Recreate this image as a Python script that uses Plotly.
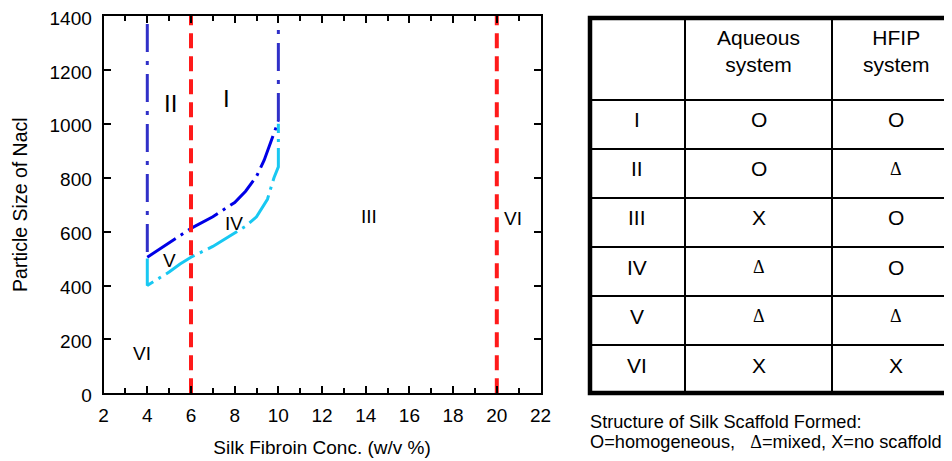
import plotly.graph_objects as go

# ---- data ----
upper_conc = [4, 5, 5.5, 6, 7, 7.5, 8, 8.5, 9, 9.35, 9.77, 10]
upper_size = [505, 560, 587, 612, 655, 680, 708, 750, 805, 865, 962, 1010]

lower_conc = [4, 4, 5, 5.5, 6, 7, 8, 8.5, 9, 9.5, 9.8, 10, 10]
lower_size = [500, 400, 450, 480, 505, 545, 595, 620, 655, 720, 800, 840, 1000]

left_bound_conc = [4, 4]
left_bound_size = [1370, 500]
right_bound_conc = [10, 10]
right_bound_size = [1010, 1370]

red_lines_conc = [6, 20]
red_line_size = [0, 1400]

region_labels = ["II", "I", "IV", "V", "VI", "III", "VI"]
region_conc = [5.04, 7.64, 7.97, 5.0, 3.74, 14.13, 20.74]
region_size = [1075, 1094, 631, 494, 149, 655, 650]
region_big = [True, True, False, False, False, False, False]

x_ticks = list(range(2, 23, 2))
y_ticks = list(range(0, 1401, 200))

table_header = ["", "Aqueous<br>system", "HFIP<br>system"]
table_regions = ["I", "II", "III", "IV", "V", "VI"]
table_aqueous = ["O", "O", "X", "Δ", "Δ", "X"]
table_hfip = ["O", "Δ", "O", "O", "Δ", "X"]

caption_lines = ["Structure of Silk Scaffold Formed:",
                 "O=homogeneous,   " + '<span style="font-family:Liberation Serif">Δ</span>'
                 + "=mixed, X=no scaffold"]

FONT = "Liberation Sans, Arial, Helvetica, sans-serif"
SERIF = "Liberation Serif, Times New Roman, serif"
W, H = 952, 461
OFF = 8  # page body margin


def fx(px):
    return (px - OFF) / W


def fy(py):
    return 1 - (py - OFF) / H


fig = go.Figure()

dashdot = "34px,6px,3px,6px"
bound_dash = "28px,9px,4px,9px"
fig.add_trace(go.Scatter(x=left_bound_conc, y=left_bound_size, mode="lines",
                         line=dict(color="#3030c8", width=3, dash=bound_dash),
                         showlegend=False, hoverinfo="skip"))
fig.add_trace(go.Scatter(x=right_bound_conc, y=right_bound_size, mode="lines",
                         line=dict(color="#3030c8", width=3, dash=bound_dash),
                         showlegend=False, hoverinfo="skip"))
fig.add_trace(go.Scatter(x=upper_conc, y=upper_size, mode="lines",
                         line=dict(color="#0000e6", width=3, dash=dashdot),
                         showlegend=False, hoverinfo="skip"))
fig.add_trace(go.Scatter(x=lower_conc, y=lower_size, mode="lines",
                         line=dict(color="#18c8f2", width=3, dash=dashdot),
                         showlegend=False, hoverinfo="skip"))
for xc in red_lines_conc:
    fig.add_trace(go.Scatter(x=[xc, xc], y=red_line_size, mode="lines",
                             line=dict(color="#ff1a1a", width=4, dash="15px,8px"),
                             showlegend=False, hoverinfo="skip"))

for lab, xc, yc, big in zip(region_labels, region_conc, region_size, region_big):
    fig.add_annotation(x=xc, y=yc, text=lab, showarrow=False,
                       font=dict(size=24 if big else 19, color="black", family=FONT))

# ---- table drawn on its own hidden axes (1 unit = 1 px) ----
col_widths = [97, 147, 128]
header_h = 83
row_h = 49
col_edges = [0]
for w in col_widths:
    col_edges.append(col_edges[-1] + w)
n_rows = len(table_regions)
row_edges = [0, header_h] + [header_h + row_h * (i + 1) for i in range(n_rows)]
table_w = col_edges[-1]
table_h = row_edges[-1]

# invisible anchor trace so the table axes exist
fig.add_trace(go.Scatter(x=[0, table_w], y=[0, table_h], mode="markers",
                         marker=dict(opacity=0), xaxis="x2", yaxis="y2",
                         showlegend=False, hoverinfo="skip"))

for xe in col_edges[1:-1]:
    fig.add_shape(type="line", xref="x2", yref="y2", x0=xe, x1=xe, y0=0, y1=table_h,
                  line=dict(color="black", width=2))
for ye in row_edges[1:-1]:
    fig.add_shape(type="line", xref="x2", yref="y2", x0=0, x1=table_w + 20, y0=ye, y1=ye,
                  line=dict(color="black", width=2))
fig.add_shape(type="rect", xref="x2", yref="y2", x0=2, x1=table_w + 20, y0=1, y1=table_h - 1,
              line=dict(color="black", width=4.5))

col_centers = [(col_edges[i] + col_edges[i + 1]) / 2 for i in range(len(col_widths))]
for j, txt in enumerate(table_header):
    if txt:
        fig.add_annotation(xref="x2", yref="y2", x=col_centers[j], y=header_h / 2 - 7,
                           text=txt, showarrow=False, yanchor="middle",
                           font=dict(size=21, color="black", family=FONT))
for j, col in enumerate([table_regions, table_aqueous, table_hfip]):
    for i, txt in enumerate(col):
        tri = txt == "Δ"
        fig.add_annotation(xref="x2", yref="y2", x=col_centers[j],
                           y=row_edges[i + 1] + 20, text=txt, showarrow=False,
                           yanchor="middle",
                           font=dict(size=18 if tri else 21, color="black",
                                     family=SERIF if tri else FONT))

for i, line in enumerate(caption_lines):
    fig.add_annotation(xref="paper", yref="paper", x=fx(588), y=fy(421.7 + 20 * i),
                       text=line, showarrow=False, xanchor="left", yanchor="middle",
                       font=dict(size=18.2, color="black", family=FONT))

axis_common = dict(showgrid=False, zeroline=False, showline=True, linecolor="black",
                   linewidth=2, ticks="inside", tickcolor="black", tickwidth=1.5,
                   ticklen=7, mirror="ticks", automargin=False,
                   ticklabeloverflow="allow",
                   tickfont=dict(size=19, color="black", family=FONT))

fig.update_layout(
    width=W, height=H, margin=dict(l=0, r=0, t=0, b=0),
    paper_bgcolor="white", plot_bgcolor="white",
    font=dict(family=FONT, color="black"),
    xaxis=dict(domain=[fx(103.6), fx(540.5)], range=[2, 22], tickvals=x_ticks,
               minor=dict(dtick=1, ticks="inside", ticklen=5, tickcolor="black", tickwidth=1.5),
               ticklabelstandoff=4,
               title=dict(text="Silk Fibroin Conc. (w/v %)", font=dict(size=19, family=FONT),
                          standoff=16),
               **axis_common),
    yaxis=dict(domain=[fy(393.3), fy(16)], range=[0, 1400], tickvals=y_ticks,
               ticklabelstandoff=6, ticklabelshift=2,
               title=dict(text="Particle Size of Nacl", font=dict(size=19.5, family=FONT),
                          standoff=17),
               **axis_common),
    xaxis2=dict(domain=[fx(580), 1], range=[-8, 372], visible=False, fixedrange=True),
    yaxis2=dict(domain=[fy(400), fy(12)], range=[383, -5], visible=False, fixedrange=True),
)

fig.write_html("out.html")
